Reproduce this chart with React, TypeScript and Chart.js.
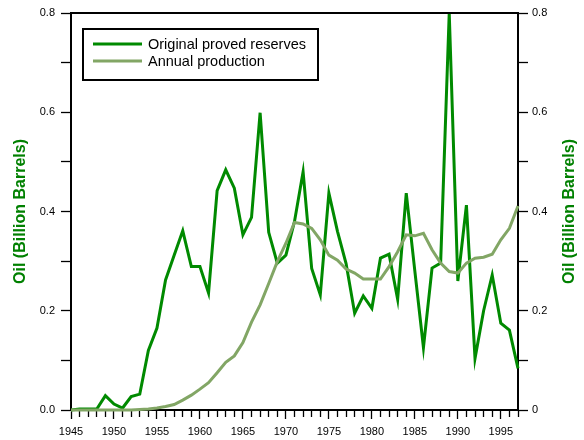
import React, { useEffect, useRef } from "react";
import { Chart, registerables } from "chart.js";

Chart.register(...registerables);

const years: number[] = [
  1945, 1946, 1947, 1948, 1949, 1950, 1951, 1952, 1953, 1954,
  1955, 1956, 1957, 1958, 1959, 1960, 1961, 1962, 1963, 1964,
  1965, 1966, 1967, 1968, 1969, 1970, 1971, 1972, 1973, 1974,
  1975, 1976, 1977, 1978, 1979, 1980, 1981, 1982, 1983, 1984,
  1985, 1986, 1987, 1988, 1989, 1990, 1991, 1992, 1993, 1994,
  1995, 1996, 1997,
];

const originalReserves: number[] = [
  0.0, 0.002, 0.002, 0.002, 0.029, 0.012, 0.004, 0.027, 0.032, 0.12,
  0.165, 0.262, 0.312, 0.361, 0.289, 0.289, 0.236, 0.442, 0.484, 0.447,
  0.353, 0.388, 0.599, 0.358, 0.296, 0.312, 0.38, 0.48, 0.285, 0.232,
  0.437, 0.36, 0.295, 0.195, 0.23, 0.205, 0.306, 0.314, 0.223, 0.437,
  0.28, 0.126, 0.286, 0.296, 0.8, 0.26, 0.413, 0.104, 0.2, 0.272,
  0.175, 0.161, 0.084,
];

const annualProduction: number[] = [
  0.0, 0.0, 0.0, 0.0, 0.0, 0.0, 0.0, 0.0, 0.001, 0.002,
  0.004, 0.007, 0.011, 0.02, 0.03, 0.042, 0.055, 0.075, 0.096, 0.109,
  0.136, 0.177, 0.212, 0.255, 0.299, 0.336, 0.378, 0.375, 0.366, 0.343,
  0.312, 0.302, 0.284, 0.276, 0.264, 0.264, 0.264, 0.289, 0.319, 0.353,
  0.351, 0.356, 0.323, 0.296, 0.279, 0.276, 0.296, 0.306, 0.308, 0.314,
  0.343, 0.366, 0.411,
];

const seriesNames: string[] = ["Original proved reserves", "Annual production"];
const axisTitle = "Oil (Billion Barrels)";

const RESERVES_COLOR = "#008a00";
const PRODUCTION_COLOR = "#82a665";
const FONT = "'Liberation Sans', Arial, sans-serif";

const decorPlugin = {
  id: "decor",
  afterDraw(chart: any) {
    const { ctx, chartArea } = chart;
    ctx.save();
    // top frame line
    ctx.strokeStyle = "#000";
    ctx.lineWidth = 2;
    ctx.beginPath();
    ctx.moveTo(chartArea.left - 1, chartArea.top);
    ctx.lineTo(chartArea.right + 1, chartArea.top);
    ctx.stroke();

    // axis titles
    const cy = (chartArea.top + chartArea.bottom) / 2;
    ctx.fillStyle = "#008000";
    ctx.font = `bold 16px ${FONT}`;
    ctx.textAlign = "center";
    ctx.textBaseline = "middle";
    for (const cx of [21, 570]) {
      ctx.save();
      ctx.translate(cx, cy);
      ctx.rotate(-Math.PI / 2);
      ctx.fillText(axisTitle, 0, 0);
      ctx.restore();
    }

    // legend box
    ctx.lineWidth = 2;
    ctx.strokeStyle = "#000";
    ctx.fillStyle = "#fff";
    ctx.fillRect(83, 29, 235, 51);
    ctx.strokeRect(83, 29, 235, 51);
    const rows = [
      { y: 44, color: RESERVES_COLOR, label: seriesNames[0] },
      { y: 61, color: PRODUCTION_COLOR, label: seriesNames[1] },
    ];
    ctx.font = `14.5px ${FONT}`;
    ctx.textAlign = "left";
    ctx.textBaseline = "middle";
    for (const r of rows) {
      ctx.strokeStyle = r.color;
      ctx.lineWidth = 3;
      ctx.beginPath();
      ctx.moveTo(93, r.y);
      ctx.lineTo(142, r.y);
      ctx.stroke();
      ctx.fillStyle = "#000";
      ctx.fillText(r.label, 148, r.y + 1);
    }
    ctx.restore();
  },
};

export default function App() {
  const canvasRef = useRef<HTMLCanvasElement | null>(null);

  useEffect(() => {
    if (!canvasRef.current) return;
    Chart.defaults.font.family = FONT;
    const reservePts = years.map((x, i) => ({ x, y: originalReserves[i] }));
    const prodPts = years.map((x, i) => ({ x, y: annualProduction[i] }));

    const tickFont = { size: 11, family: FONT };
    const chart = new Chart(canvasRef.current, {
      type: "line",
      data: {
        datasets: [
          {
            label: seriesNames[1],
            data: prodPts,
            borderColor: PRODUCTION_COLOR,
            borderWidth: 3,
            pointRadius: 0,
            tension: 0,
            yAxisID: "y",
            clip: false,
          },
          {
            label: seriesNames[0],
            data: reservePts,
            borderColor: RESERVES_COLOR,
            borderWidth: 3,
            pointRadius: 0,
            tension: 0,
            yAxisID: "y",
            clip: false,
          },
        ],
      },
      options: {
        animation: false,
        responsive: true,
        maintainAspectRatio: false,
        layout: { padding: { top: 13, left: 0, right: 0, bottom: 0 } },
        plugins: {
          legend: { display: false },
          tooltip: { enabled: false },
          title: { display: false },
        },
        scales: {
          x: {
            type: "linear",
            min: 1945,
            max: 1997,
            afterFit: (s: any) => {
              s.height = 30;
            },
            border: { display: true, color: "#000", width: 2 },
            grid: {
              display: true,
              drawOnChartArea: false,
              drawTicks: true,
              tickLength: 9,
              tickWidth: 1.3,
              tickColor: "#000",
              tickBorderDash: (c: any) =>
                c.tick && Math.round(c.tick.value) % 5 === 0 ? [] : [6, 30],
            },
            ticks: {
              stepSize: 1,
              autoSkip: false,
              maxRotation: 0,
              padding: 6,
              color: "#000",
              font: tickFont,
              callback: (v: any) => {
                const n = Math.round(Number(v));
                return n % 5 === 0 ? String(n) : "";
              },
            },
          },
          y: {
            type: "linear",
            position: "left",
            min: 0,
            max: 0.8,
            afterFit: (s: any) => {
              s.width = 71;
            },
            border: { display: true, color: "#000", width: 2 },
            grid: {
              display: true,
              drawOnChartArea: false,
              tickLength: 10,
              tickWidth: 1.3,
              tickColor: "#000",
            },
            ticks: {
              stepSize: 0.1,
              autoSkip: false,
              padding: 6,
              color: "#000",
              font: tickFont,
              callback: (v: any) => {
                const n = Math.round(Number(v) * 10);
                return n % 2 === 0 ? (n / 10).toFixed(1) : "";
              },
            },
          },
          y2: {
            type: "linear",
            position: "right",
            min: 0,
            max: 0.8,
            afterFit: (s: any) => {
              s.width = 66;
            },
            border: { display: true, color: "#000", width: 2 },
            grid: {
              display: true,
              drawOnChartArea: false,
              tickLength: 10,
              tickWidth: 1.3,
              tickColor: "#000",
            },
            ticks: {
              stepSize: 0.1,
              autoSkip: false,
              padding: 4,
              color: "#000",
              font: tickFont,
              callback: (v: any) => {
                const n = Math.round(Number(v) * 10);
                if (n % 2 !== 0) return "";
                return n === 0 ? "0" : (n / 10).toFixed(1);
              },
            },
          },
        },
      } as any,
      plugins: [decorPlugin],
    });
    return () => chart.destroy();
  }, []);

  return (
    <div
      style={{
        position: "fixed",
        left: 0,
        top: 0,
        width: 584,
        height: 440,
        background: "#fff",
      }}
    >
      <canvas ref={canvasRef} />
    </div>
  );
}
